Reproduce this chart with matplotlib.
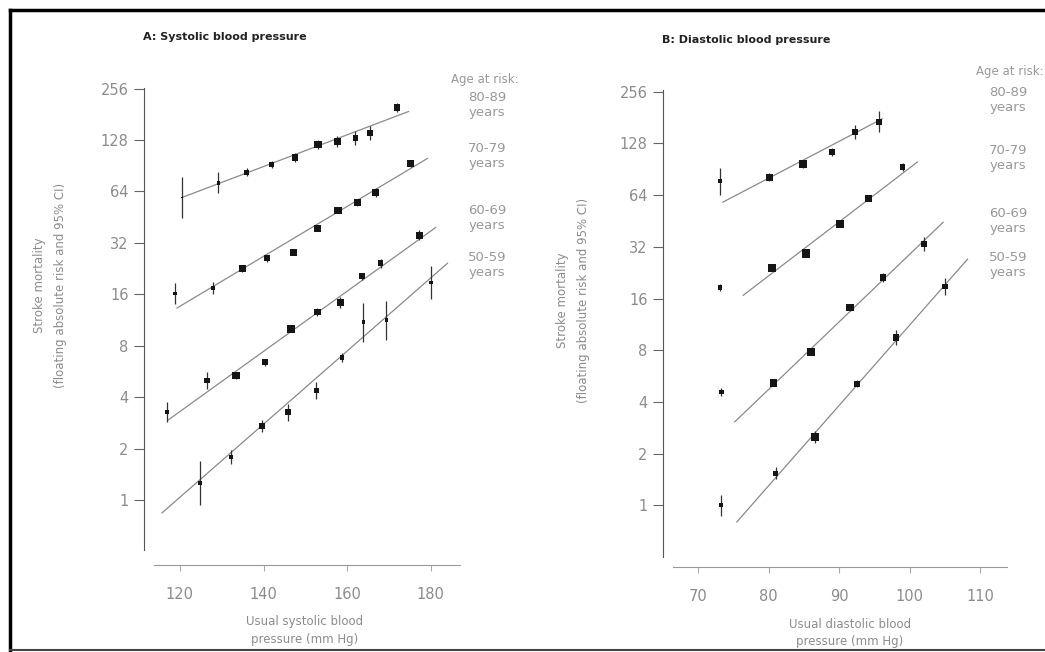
import matplotlib
matplotlib.use('Agg')
import matplotlib.pyplot as plt
import numpy as np

# age groups, top to bottom
ages = ['80-89\nyears', '70-79\nyears', '60-69\nyears', '50-59\nyears']

# A: systolic - usual SBP (mm Hg), stroke mortality, 95% CI factor, weight
sbp_80 = [120.5, 129.2, 136.0, 142.0, 147.6, 153.0, 157.6, 162.0, 165.4, 172.0]
sbp_70 = [118.8, 127.9, 134.9, 140.9, 147.1, 152.9, 157.9, 162.4, 166.8, 175.2]
sbp_60 = [116.9, 126.5, 133.4, 140.4, 146.6, 152.9, 158.4, 163.6, 168.0, 177.3]
sbp_50 = [124.8, 132.2, 139.6, 145.9, 152.6, 158.8, 163.9, 169.4, 180.0]
sys_80 = [59, 72, 83, 92, 101, 120, 125, 132, 140, 198]
sys_70 = [16.2, 17.4, 22.7, 26.0, 28.2, 38.9, 49.5, 55.3, 63.0, 93.0]
sys_60 = [3.27, 5.03, 5.38, 6.41, 10.0, 12.6, 14.3, 20.4, 24.3, 35.4]
sys_50 = [1.26, 1.78, 2.71, 3.27, 4.4, 6.85, 11.0, 11.3, 18.8]
sys_ci_80 = [1.32, 1.15, 1.06, 1.05, 1.06, 1.06, 1.08, 1.1, 1.1, 1.06]
sys_ci_70 = [1.15, 1.08, 1.05, 1.05, 1.04, 1.04, 1.04, 1.05, 1.06, 1.05]
sys_ci_60 = [1.15, 1.12, 1.05, 1.05, 1.04, 1.05, 1.08, 1.05, 1.06, 1.07]
sys_ci_50 = [1.35, 1.1, 1.08, 1.12, 1.12, 1.06, 1.3, 1.3, 1.25]
sys_w_80 = [0.2, 1, 2, 2, 3, 4, 3.5, 2.5, 2.5, 3]
sys_w_70 = [1, 1.5, 3.5, 3, 4, 3.5, 4.5, 3.5, 3, 3.5]
sys_w_60 = [1, 2, 4, 3, 5, 3, 3, 2.5, 2.5, 3]
sys_w_50 = [1, 1, 3, 3, 2, 1.5, 1, 1, 1]
# fitted lines (start, end)
sys_fit_x = [(120.5, 174.7), (119.3, 179.2), (117.1, 181.2), (115.7, 184.0)]
sys_fit_y = [(59, 188), (13.3, 99.8), (2.93, 39.4), (0.84, 24.3)]

# B: diastolic
dbp_80 = [73.1, 80.1, 84.85, 89.0, 92.3, 95.6]
dbp_70 = [73.1, 80.5, 85.3, 90.1, 94.2, 99.0]
dbp_60 = [73.3, 80.7, 86.0, 91.5, 96.2, 102.0]
dbp_50 = [73.3, 81.0, 86.6, 92.5, 98.1, 105.0]
dia_80 = [77, 81.5, 97, 114, 149, 171]
dia_70 = [18.5, 24, 29.3, 43.4, 61.4, 93.3]
dia_60 = [4.57, 5.17, 7.84, 14.2, 21.2, 33.1]
dia_50 = [1.0, 1.54, 2.5, 5.1, 9.5, 18.8]
dia_ci_80 = [1.2, 1.06, 1.05, 1.05, 1.1, 1.15]
dia_ci_70 = [1.05, 1.04, 1.04, 1.04, 1.04, 1.06]
dia_ci_60 = [1.05, 1.05, 1.04, 1.05, 1.06, 1.1]
dia_ci_50 = [1.15, 1.08, 1.08, 1.05, 1.1, 1.12]
dia_w_80 = [1, 3.5, 4.5, 3, 2.5, 2.5]
dia_w_70 = [1.5, 5, 5.5, 5, 4, 2]
dia_w_60 = [1.5, 4.5, 5, 4.5, 3, 2.5]
dia_w_50 = [1, 2, 4, 3, 3, 2]
dia_fit_x = [(73.5, 96.1), (76.4, 101.1), (75.2, 104.75), (75.5, 108.2)]
dia_fit_y = [(58.2, 178), (16.7, 99.8), (3.06, 44.5), (0.8, 27.1)]

y_ticks = [1, 2, 4, 8, 16, 32, 64, 128, 256]
sys_ticks = [120, 140, 160, 180]
dia_ticks = [70, 80, 90, 100, 110]

W, H = 1045, 652
fig = plt.figure(figsize=(W / 100, H / 100), dpi=100)
fig.patch.set_facecolor('white')

def px(x0, y0, x1, y1):
    return [x0 / W, 1 - y1 / H, (x1 - x0) / W, (y1 - y0) / H]

ax1 = fig.add_axes(px(154, 88, 460, 550))
ax2 = fig.add_axes(px(673, 90, 1007, 557))

# offsets in points (1 px = 0.72 pt at 100 dpi)
panels = [
    (ax1, [sbp_80, sbp_70, sbp_60, sbp_50], [sys_80, sys_70, sys_60, sys_50],
     [sys_ci_80, sys_ci_70, sys_ci_60, sys_ci_50], [sys_w_80, sys_w_70, sys_w_60, sys_w_50],
     sys_fit_x, sys_fit_y, sys_ticks, (113.8, 187), (0.51, 258), 10.8),
    (ax2, [dbp_80, dbp_70, dbp_60, dbp_50], [dia_80, dia_70, dia_60, dia_50],
     [dia_ci_80, dia_ci_70, dia_ci_60, dia_ci_50], [dia_w_80, dia_w_70, dia_w_60, dia_w_50],
     dia_fit_x, dia_fit_y, dia_ticks, (66.45, 113.8), (0.5, 262), 7.2),
]

for ax, xs, ys, cis, ws, fx, fy, xt, xl, yl, off in panels:
    for x, y, ci, w, lx, ly in zip(xs, ys, cis, ws, fx, fy):
        x = np.array(x); y = np.array(y); ci = np.array(ci)
        ax.plot(lx, ly, color='#8a8a8a', lw=0.9, zorder=1)
        ax.vlines(x, y / ci, y * ci, color='#333333', lw=0.9, zorder=2)
        ax.scatter(x, y, s=np.array(w) * 7, marker='s', color='#151515', lw=0, zorder=3)
    ax.set_yscale('log')
    ax.set_xlim(*xl)
    ax.set_ylim(*yl)
    ax.set_yticks(y_ticks)
    ax.set_yticklabels([str(t) for t in y_ticks])
    ax.minorticks_off()
    ax.set_xticks(xt)
    ax.spines['top'].set_visible(False)
    ax.spines['right'].set_visible(False)
    ax.spines['left'].set_position(('outward', 7.2))
    ax.spines['bottom'].set_position(('outward', off))
    ax.spines['left'].set_color('#555555')
    ax.spines['bottom'].set_color('#999999')
    ax.tick_params(axis='y', length=7, width=0.8, color='#666666', labelcolor='#8c8c8c',
                   labelsize=10.5, pad=4)
    ax.tick_params(axis='x', length=4, width=0.8, color='#aaaaaa', labelcolor='#8c8c8c',
                   labelsize=10.5, pad=12)

# titles
fig.text(143 / W, 1 - 37 / H, 'A: Systolic blood pressure', fontsize=8, fontweight='bold',
         va='center', color='#222222')
fig.text(662 / W, 1 - 40 / H, 'B: Diastolic blood pressure', fontsize=8, fontweight='bold',
         va='center', color='#222222')

# axis labels
fig.text(305 / W, 1 - 630 / H, 'Usual systolic blood\npressure (mm Hg)', ha='center',
         va='center', fontsize=8.5, color='#8c8c8c', linespacing=1.5)
fig.text(850 / W, 1 - 633 / H, 'Usual diastolic blood\npressure (mm Hg)', ha='center',
         va='center', fontsize=8.5, color='#8c8c8c', linespacing=1.5)
ylab = 'Stroke mortality\n(floating absolute risk and 95% CI)'
fig.text(50 / W, 1 - 285 / H, ylab, rotation=90, ha='center', va='center', fontsize=8.5,
         color='#8c8c8c', linespacing=1.75)
fig.text(573 / W, 1 - 300 / H, ylab, rotation=90, ha='center', va='center', fontsize=8.5,
         color='#8c8c8c', linespacing=1.75)

# age at risk labels
fig.text(485 / W, 1 - 79 / H, 'Age at risk:', ha='center', va='center', fontsize=8.5, color='#999999')
fig.text(1010 / W, 1 - 71 / H, 'Age at risk:', ha='center', va='center', fontsize=8.5, color='#999999')
for lab, yl_, yr_ in zip(ages, [105, 156, 218, 265], [100, 158, 221, 265]):
    fig.text(487 / W, 1 - yl_ / H, lab, ha='center', va='center', fontsize=9.5,
             color='#999999', linespacing=1.2)
    fig.text(1008 / W, 1 - yr_ / H, lab, ha='center', va='center', fontsize=9.5,
             color='#999999', linespacing=1.2)

# frame around the figure
fig.add_artist(plt.Line2D([10 / W, 1.0], [1 - 10 / H, 1 - 10 / H], color='black', lw=2.5))
fig.add_artist(plt.Line2D([10 / W, 10 / W], [1 - 10 / H, 1 - 650 / H], color='black', lw=2.5))
fig.add_artist(plt.Line2D([10 / W, 1.0], [1 - 650 / H, 1 - 650 / H], color='#444444', lw=1.5))

fig.savefig('out.png', dpi=100, facecolor='white')
